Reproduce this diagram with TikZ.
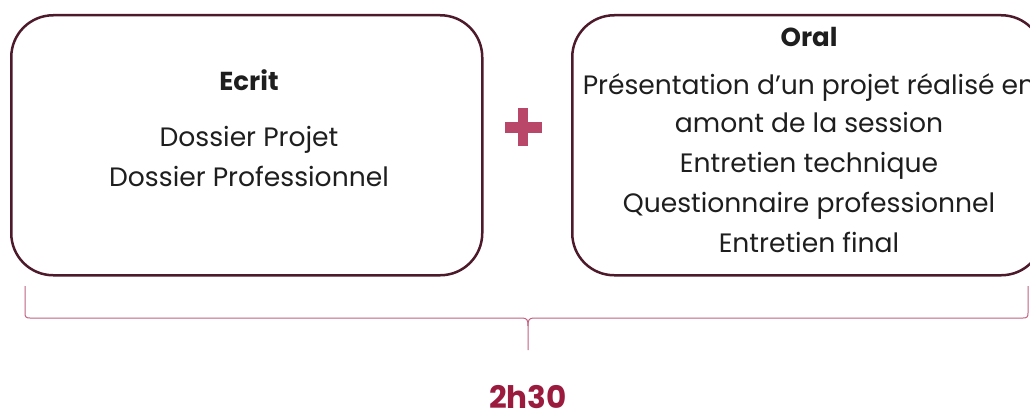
\documentclass[tikz,border=0pt]{standalone}
\usepackage{fontspec}
\setmainfont{Poppins}
\definecolor{boxline}{HTML}{4D1A2B}
\definecolor{ink}{HTML}{1E1E1E}
\definecolor{plusred}{HTML}{B8476A}
\definecolor{bracepink}{HTML}{C2607F}
\definecolor{timered}{HTML}{9B1B3F}
\begin{document}
\begin{tikzpicture}[x=1pt, y=-1pt,
  box/.style = {draw=boxline, line width=2.5pt, rounded corners=42pt, minimum width=471pt, minimum height=260pt, anchor=north west, inner sep=0pt},
  txt/.style = {anchor=base, text=ink, inner sep=0pt, font=\fontsize{26.6}{26.6}\selectfont},
  head/.style = {txt, font=\fontsize{26}{26}\selectfont\bfseries},
  brace/.style = {draw=bracepink, line width=1pt}]
\useasboundingbox (0,0) rectangle (1030,412);
\clip (0,0) rectangle (1030,412);
% boxes
\node[box] (ecrit) at (10,14) {};
\node[box] (oral) at (571,14) {};
% left box text
\node[head] (ecrittitle) at (249,90) {Ecrit};
\node[txt] (projet) at (249,146) {Dossier Projet};
\node[txt] (pro) at (249,186) {Dossier Professionnel};
% right box text
\node[head] (oraltitle) at (809,47) {Oral};
\node[txt] (presentation) at (809,94) {Présentation d’un projet réalisé en};
\node[txt] (amont) at (809,132) {amont de la session};
\node[txt] (technique) at (809,172) {Entretien technique};
\node[txt] (questionnaire) at (809,212) {Questionnaire professionnel};
\node[txt] (final) at (809,252) {Entretien final};
% plus sign
\fill[plusred] (505,122) rectangle (542,133);
\fill[plusred] (518,108) rectangle (528,146);
% brace and duration
\coordinate (braceL) at (25,286);
\coordinate (braceR) at (1028,286);
\coordinate (braceTip) at (528,350);
\draw[brace] (braceL) -- (25,313) .. controls (25,317) and (26,318) .. (30,318)
  -- (522,318) .. controls (527,318) and (528,320) .. (528,326) -- (braceTip);
\draw[brace] (braceR) -- (1028,313) .. controls (1028,317) and (1027,318) .. (1023,318)
  -- (534,318) .. controls (529,318) and (528,320) .. (528,326);
\node[anchor=base, inner sep=0pt, text=timered, font=\fontsize{31}{31}\selectfont\bfseries] (duree) at (528,408) {2h30};
\end{tikzpicture}
\end{document}
